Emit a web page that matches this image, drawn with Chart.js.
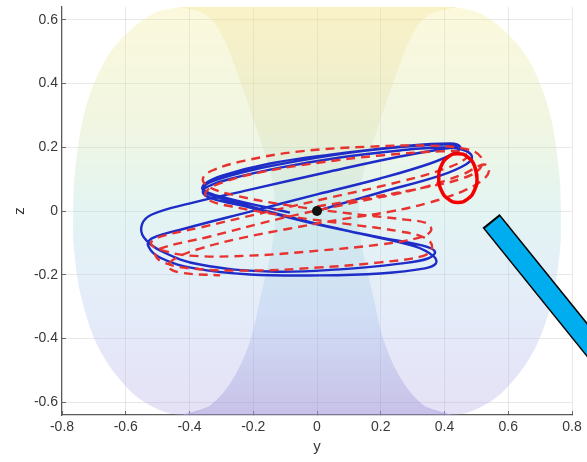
<!DOCTYPE html>
<html>
<head>
<meta charset="utf-8">
<script src="https://cdn.jsdelivr.net/npm/chart.js@4.4.1/dist/chart.umd.min.js"></script>
<style>
  html, body { margin: 0; padding: 0; background: #fff; }
  #wrap { width: 587px; height: 462px; }
</style>
</head>
<body>
<div id="wrap"><canvas id="myChart" width="587" height="462"></canvas></div>
<script>
// axes ticks
const xTicks = [-0.8, -0.6, -0.4, -0.2, 0, 0.2, 0.4, 0.6, 0.8];
const xTickLabels = ['-0.8', '-0.6', '-0.4', '-0.2', '0', '0.2', '0.4', '0.6', '0.8'];
const zTicks = [-0.6, -0.4, -0.2, 0, 0.2, 0.4, 0.6];
const zTickLabels = ['-0.6', '-0.4', '-0.2', '0', '0.2', '0.4', '0.6'];

// surface outline (left lobe, right lobe, overlap in the middle)
const leftLobeY = [-0.430, -0.351, -0.298, -0.242, -0.185, -0.141, -0.132, -0.141, -0.173, -0.210, -0.267, -0.336, -0.414,
  -0.493, -0.587, -0.681, -0.737, -0.762, -0.765, -0.759, -0.728, -0.665, -0.587, -0.508, -0.430];
const leftLobeZ = [0.640, 0.616, 0.550, 0.409, 0.243, 0.096, 0.000, -0.108, -0.249, -0.406, -0.531, -0.610, -0.640,
  -0.625, -0.563, -0.437, -0.281, -0.124, 0.000, 0.127, 0.315, 0.472, 0.566, 0.622, 0.640];
const rightLobeY = [0.430, 0.351, 0.298, 0.242, 0.185, 0.141, 0.132, 0.141, 0.173, 0.210, 0.267, 0.336, 0.414,
  0.493, 0.587, 0.681, 0.737, 0.762, 0.765, 0.759, 0.728, 0.665, 0.587, 0.508, 0.430];
const rightLobeZ = [0.640, 0.616, 0.550, 0.409, 0.243, 0.096, 0.000, -0.108, -0.249, -0.406, -0.531, -0.610, -0.640,
  -0.625, -0.563, -0.437, -0.281, -0.124, 0.000, 0.127, 0.315, 0.472, 0.566, 0.622, 0.640];
const middleY = [-0.430, 0.430, 0.351, 0.298, 0.242, 0.185, 0.141, 0.132, 0.141, 0.173, 0.210, 0.267, 0.336, 0.414,
  -0.414, -0.336, -0.267, -0.210, -0.173, -0.141, -0.132, -0.141, -0.185, -0.242, -0.298, -0.351, -0.430];
const middleZ = [0.640, 0.640, 0.616, 0.550, 0.409, 0.243, 0.096, 0.000, -0.108, -0.249, -0.406, -0.531, -0.610, -0.640,
  -0.640, -0.610, -0.531, -0.406, -0.249, -0.108, 0.000, 0.096, 0.243, 0.409, 0.550, 0.616, 0.640];

// blue trajectory (solid)
const blueY = [0.000, 0.198, 0.386, 0.467, 0.486, 0.455, 0.386, 0.260, 0.072, -0.116, -0.267, -0.342, -0.358, -0.329, -0.210,
  0.000, 0.198, 0.329, 0.370, 0.348, 0.260, 0.072, -0.147, -0.367, -0.486, -0.543, -0.549, -0.518, -0.398, -0.210,
  0.041, 0.260, 0.402, 0.442, 0.417, 0.323, 0.135, -0.053, -0.210, -0.320, -0.354, -0.345, -0.242, -0.053, 0.135,
  0.307, 0.367, 0.373, 0.339, 0.198, 0.009, -0.210, -0.383, -0.493, -0.530, -0.518, -0.414, -0.210, 0.000, 0.198,
  0.355, 0.433, 0.449, 0.417, 0.260, 0.041, -0.147, -0.298, -0.351, -0.358, -0.289, -0.085];
const blueZ = [0.000, 0.058, 0.111, 0.146, 0.171, 0.193, 0.199, 0.190, 0.168, 0.136, 0.102, 0.077, 0.058, 0.039, 0.011,
  -0.042, -0.083, -0.108, -0.127, -0.149, -0.165, -0.183, -0.190, -0.168, -0.127, -0.083, -0.042, -0.011, 0.024, 0.067,
  0.124, 0.171, 0.196, 0.202, 0.208, 0.205, 0.187, 0.158, 0.127, 0.096, 0.077, 0.055, 0.024, -0.027, -0.071,
  -0.111, -0.143, -0.165, -0.180, -0.196, -0.202, -0.199, -0.180, -0.146, -0.108, -0.086, -0.055, -0.002, 0.052, 0.102,
  0.149, 0.183, 0.202, 0.212, 0.202, 0.177, 0.149, 0.111, 0.086, 0.067, 0.042, -0.005];

// red trajectory (dashed)
const redY = [0.000, 0.166, 0.339, 0.455, 0.511, 0.515, 0.474, 0.355, 0.166, -0.053, -0.226, -0.329, -0.358, -0.342, -0.257,
  -0.085, 0.104, 0.276, 0.345, 0.358, 0.323, 0.198, 0.009, -0.210, -0.398, -0.493, -0.521, -0.499, -0.367, -0.179,
  0.041, 0.260, 0.402, 0.467, 0.461, 0.386, 0.198, 0.009, -0.179, -0.298, -0.348, -0.342, -0.267, -0.085, 0.104,
  0.260, 0.342, 0.361, 0.336, 0.198, 0.009, -0.210, -0.398, -0.483, -0.508, -0.493, -0.336, -0.116, 0.104, 0.323,
  0.455, 0.524, 0.540, 0.518, 0.455, 0.355, 0.229, 0.072, -0.085, -0.242, -0.367, -0.445, -0.467, -0.430, -0.304];
const redZ = [0.014, 0.042, 0.074, 0.102, 0.133, 0.168, 0.193, 0.205, 0.202, 0.187, 0.158, 0.127, 0.102, 0.077, 0.049,
  0.017, -0.008, -0.027, -0.039, -0.061, -0.083, -0.105, -0.124, -0.140, -0.140, -0.121, -0.102, -0.083, -0.052, -0.008,
  0.042, 0.092, 0.133, 0.165, 0.183, 0.187, 0.174, 0.152, 0.121, 0.089, 0.061, 0.036, 0.014, -0.017, -0.042,
  -0.064, -0.086, -0.114, -0.140, -0.161, -0.177, -0.187, -0.180, -0.161, -0.136, -0.118, -0.080, -0.024, 0.024, 0.071,
  0.114, 0.146, 0.127, 0.096, 0.061, 0.027, -0.002, -0.027, -0.055, -0.086, -0.118, -0.149, -0.174, -0.193, -0.202];

// start point, red marker ring, blue pointer bar
const startY = [0];
const startZ = [0];
const ringY = [0.502, 0.494, 0.472, 0.442, 0.412, 0.390, 0.382, 0.390, 0.412, 0.442, 0.472, 0.494, 0.502, 0.494];
const ringZ = [0.103, 0.142, 0.170, 0.180, 0.170, 0.142, 0.103, 0.065, 0.037, 0.027, 0.037, 0.065, 0.103, 0.142];
const barOutlineY = [0.944, 0.546];
const barOutlineZ = [-0.524, -0.031];
const barY = [0.944, 0.550];
const barZ = [-0.524, -0.036];

const pts = (ys, zs) => ys.map((v, i) => ({ x: v, y: zs[i] }));

function vertGradient(stops) {
    return function (context) {
        const area = context.chart.chartArea;
        if (!area) return 'rgba(0,0,0,0)';
        const g = context.chart.ctx.createLinearGradient(0, area.top, 0, area.bottom);
        stops.forEach(s => g.addColorStop(s[0], s[1]));
        return g;
    };
}

// keep the plot box where the layout padding puts it
function noOverflow(axis) {
    axis.paddingTop = 0;
    axis.paddingBottom = 0;
    axis.paddingLeft = 0;
    axis.paddingRight = 0;
}

const lobeFill = vertGradient([
    [0, 'rgba(244,235,149,0.33)'],
    [0.3, 'rgba(212,229,172,0.35)'],
    [0.5, 'rgba(175,224,221,0.35)'],
    [0.75, 'rgba(178,198,238,0.35)'],
    [1, 'rgba(181,169,229,0.35)']
]);
const middleFill = vertGradient([
    [0, 'rgba(244,226,137,0.48)'],
    [0.3, 'rgba(213,222,164,0.5)'],
    [0.5, 'rgba(173,220,220,0.55)'],
    [0.75, 'rgba(170,195,237,0.55)'],
    [1, 'rgba(155,142,213,0.55)']
]);

const shapeStyle = { showLine: true, fill: 'shape', borderWidth: 0, borderColor: 'rgba(0,0,0,0)', pointRadius: 0, tension: 0.35, order: 10 };
const axisFont = { family: 'Liberation Sans, Arial, sans-serif', size: 14 };

const ctx = document.getElementById('myChart').getContext('2d');
const chart = new Chart(ctx, {
    type: 'scatter',
    data: {
        datasets: [
            Object.assign({ label: 'left', data: pts(leftLobeY, leftLobeZ), backgroundColor: lobeFill }, shapeStyle),
            Object.assign({ label: 'right', data: pts(rightLobeY, rightLobeZ), backgroundColor: lobeFill }, shapeStyle),
            Object.assign({ label: 'middle', data: pts(middleY, middleZ), backgroundColor: middleFill }, shapeStyle),
            {
                label: 'blue', data: pts(blueY, blueZ), showLine: true, borderColor: '#1e2cc8',
                borderWidth: 2.4, pointRadius: 0, tension: 0.4, order: 6
            },
            {
                label: 'red', data: pts(redY, redZ), showLine: true, borderColor: '#e8322f',
                borderWidth: 2.4, borderDash: [9, 6], pointRadius: 0, tension: 0.4, order: 5
            },
            {
                label: 'start', data: pts(startY, startZ), pointRadius: 5, pointBackgroundColor: '#111',
                pointBorderWidth: 0, order: 3
            },
            {
                label: 'ring', data: pts(ringY, ringZ), showLine: true, borderColor: '#f40000',
                borderWidth: 3.5, pointRadius: 0, tension: 0.5, order: 2
            },
            {
                label: 'barOutline', data: pts(barOutlineY, barOutlineZ), showLine: true, borderColor: '#000',
                borderWidth: 22, borderCapStyle: 'butt', pointRadius: 0, clip: false, order: 1
            },
            {
                label: 'bar', data: pts(barY, barZ), showLine: true, borderColor: '#00aeef',
                borderWidth: 19, borderCapStyle: 'butt', pointRadius: 0, clip: false, order: 0
            }
        ]
    },
    options: {
        responsive: false,
        animation: false,
        devicePixelRatio: 1,
        layout: { padding: { top: 7, right: 15, bottom: 0, left: 0 } },
        plugins: { legend: { display: false }, tooltip: { enabled: false } },
        scales: {
            x: {
                type: 'linear', min: -0.8, max: 0.8,
                afterBuildTicks: axis => { axis.ticks = xTicks.map(v => ({ value: v })); },
                afterFit: axis => { axis.height = 47; noOverflow(axis); },
                ticks: {
                    callback: (v, i) => xTickLabels[i],
                    color: '#383838', padding: 8, font: axisFont
                },
                grid: { color: 'rgba(0,0,0,0.09)', drawTicks: true, tickLength: -4, tickColor: '#6a6a6a' },
                border: { color: '#5a5a5a', width: 1.2 },
                title: {
                    display: true, text: 'y', color: '#383838', padding: { top: 0, bottom: 6 },
                    font: { family: 'Liberation Sans, Arial, sans-serif', size: 15 }
                }
            },
            y: {
                type: 'linear', min: -0.64, max: 0.64,
                afterBuildTicks: axis => { axis.ticks = zTicks.map(v => ({ value: v })); },
                afterFit: axis => { axis.width = 62; noOverflow(axis); },
                ticks: {
                    callback: (v, i) => zTickLabels[i],
                    color: '#383838', padding: 8, font: axisFont
                },
                grid: { color: 'rgba(0,0,0,0.09)', drawTicks: true, tickLength: -4, tickColor: '#6a6a6a' },
                border: { color: '#5a5a5a', width: 1.2 },
                title: {
                    display: true, text: 'z', color: '#383838', padding: { top: 11, bottom: 0 },
                    font: { family: 'Liberation Sans, Arial, sans-serif', size: 15 }
                }
            }
        }
    }
});
</script>
</body>
</html>
